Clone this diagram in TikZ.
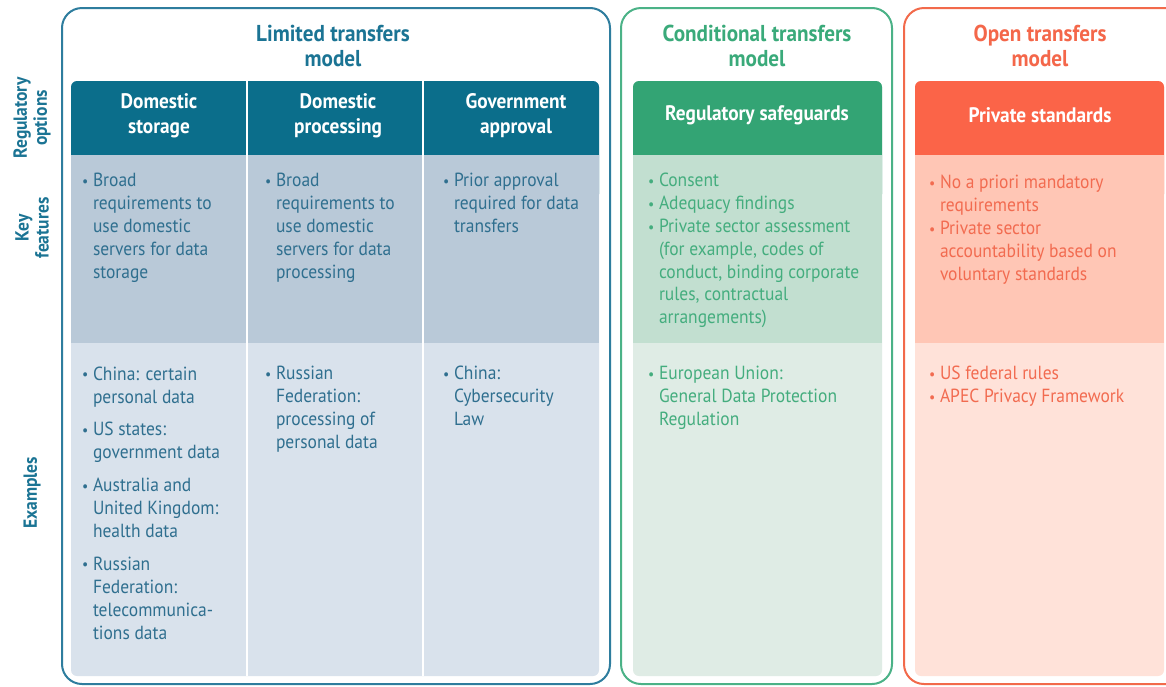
\documentclass[tikz,border=0pt]{standalone}
\usepackage{fontspec}
\setmainfont[FakeStretch=0.92]{PT Sans}
\definecolor{blueline}{HTML}{2E7D9E}
\definecolor{bluetitle}{HTML}{1B7494}
\definecolor{bluehdr}{HTML}{0B6E8B}
\definecolor{bluekf}{HTML}{B9C9D8}
\definecolor{blueex}{HTML}{D9E2EC}
\definecolor{bluetext}{HTML}{2F6F8F}
\definecolor{greenline}{HTML}{4BB287}
\definecolor{greentitle}{HTML}{3AAA7A}
\definecolor{greenhdr}{HTML}{33A474}
\definecolor{greenkf}{HTML}{C2DFD0}
\definecolor{greenex}{HTML}{DFECE5}
\definecolor{greentext}{HTML}{44AD7E}
\definecolor{orangeline}{HTML}{F26A4B}
\definecolor{orangetitle}{HTML}{F4674A}
\definecolor{orangehdr}{HTML}{FB6448}
\definecolor{orangekf}{HTML}{FFC6B5}
\definecolor{orangeex}{HTML}{FFE2D9}
\definecolor{orangetext}{HTML}{F26B50}
\newcommand\bl{\makebox[11pt][l]{\raisebox{0.5pt}{\fontsize{15}{15}\selectfont\textbullet}}}
\newcommand\ind{\hspace*{11pt}}
\begin{document}
\begin{tikzpicture}[x=1pt,y=-1pt,
  every node/.style={inner sep=0pt, outer sep=0pt},
  panel/.style={line width=2pt, rounded corners=20pt},
  ttl/.style={font=\fontsize{23}{25}\selectfont\bfseries, align=center},
  hdr/.style={font=\fontsize{21}{25}\selectfont\bfseries, text=white, align=center},
  body/.style={font=\fontsize{19}{22.8}\selectfont, align=left, anchor=north west},
  side/.style={font=\fontsize{19}{20}\selectfont\bfseries, text=bluetitle, align=center, rotate=90}]
\useasboundingbox (0,0) rectangle (1166,686);
\clip (0,0) rectangle (1166,686);
\fill[white] (0,0) rectangle (1166,686);
% panels
\draw[panel, blueline] (62,8) rectangle (610,684);
\draw[panel, greenline] (621,8) rectangle (892,684);
\draw[panel, orangeline] (904,8) rectangle (1190,684);
% limited table
\fill[blueex, rounded corners=6pt] (71,81) rectangle (599,676);
\fill[bluehdr, rounded corners=6pt] (71,81) rectangle (599,200);
\fill[bluekf] (71,155) rectangle (599,343);
\draw[white, line width=1.5pt] (247,81) -- (247,676) (423,81) -- (423,676);
% conditional table
\fill[greenex, rounded corners=6pt] (633,81) rectangle (882,676);
\fill[greenhdr, rounded corners=6pt] (633,81) rectangle (882,200);
\fill[greenkf] (633,155) rectangle (882,343);
% open table
\fill[orangeex, rounded corners=6pt] (915,81) rectangle (1164,676);
\fill[orangehdr, rounded corners=6pt] (915,81) rectangle (1164,200);
\fill[orangekf] (915,155) rectangle (1164,343);
% titles
\node[ttl, text=bluetitle] (t1) at (333,46) {Limited transfers\\model};
\node[ttl, text=greentitle] (t2) at (757,46) {Conditional transfers\\model};
\node[ttl, text=orangetitle] (t3) at (1040,46) {Open transfers\\model};
% side labels
\node[side] (s1) at (32,118) {Regulatory\\options};
\node[side] (s2) at (32,228) {Key\\features};
\node[side] (s3) at (32,493) {Examples};
% headers
\node[hdr] (h1) at (159,116) {Domestic\\storage};
\node[hdr] (h2) at (338,116) {Domestic\\processing};
\node[hdr] (h3) at (516,116) {Government\\approval};
\node[hdr] (h4) at (757,115) {Regulatory safeguards};
\node[hdr] (h5) at (1040,115) {Private standards};
% key features
\node[body, text=bluetext] (k1) at (82,171) {\strut\bl Broad\\\ind requirements to\\\ind use domestic\\\ind servers for data\\\ind storage};
\node[body, text=bluetext] (k2) at (265,171) {\strut\bl Broad\\\ind requirements to\\\ind use domestic\\\ind servers for data\\\ind processing};
\node[body, text=bluetext] (k3) at (443,171) {\strut\bl Prior approval\\\ind required for data\\\ind transfers};
\node[body, text=greentext] (k4) at (648,171) {\strut\bl Consent\\\bl Adequacy findings\\\bl Private sector assessment\\\ind (for example, codes of\\\ind conduct, binding corporate\\\ind rules, contractual\\\ind arrangements)};
\node[body, text=orangetext] (k5) at (929,173) {\strut\bl No a priori mandatory\\\ind requirements\\\bl Private sector\\\ind accountability based on\\\ind voluntary standards};
% examples
\node[body, text=bluetext, font=\fontsize{19}{23.1}\selectfont] (e1) at (82,364) {\strut\bl China: certain\\\ind personal data\\[9.5pt]\bl US states:\\\ind government data\\[9.5pt]\bl Australia and\\\ind United Kingdom:\\\ind health data\\[9.5pt]\bl Russian\\\ind Federation:\\\ind telecommunica-\\\ind tions data};
\node[body, text=bluetext] (e2) at (265,364) {\strut\bl Russian\\\ind Federation:\\\ind processing of\\\ind personal data};
\node[body, text=bluetext] (e3) at (443,364) {\strut\bl China:\\\ind Cybersecurity\\\ind Law};
\node[body, text=greentext] (e4) at (648,364) {\strut\bl European Union:\\\ind General Data Protection\\\ind Regulation};
\node[body, text=orangetext] (e5) at (929,364) {\strut\bl US federal rules\\\bl APEC Privacy Framework};
\end{tikzpicture}
\end{document}
